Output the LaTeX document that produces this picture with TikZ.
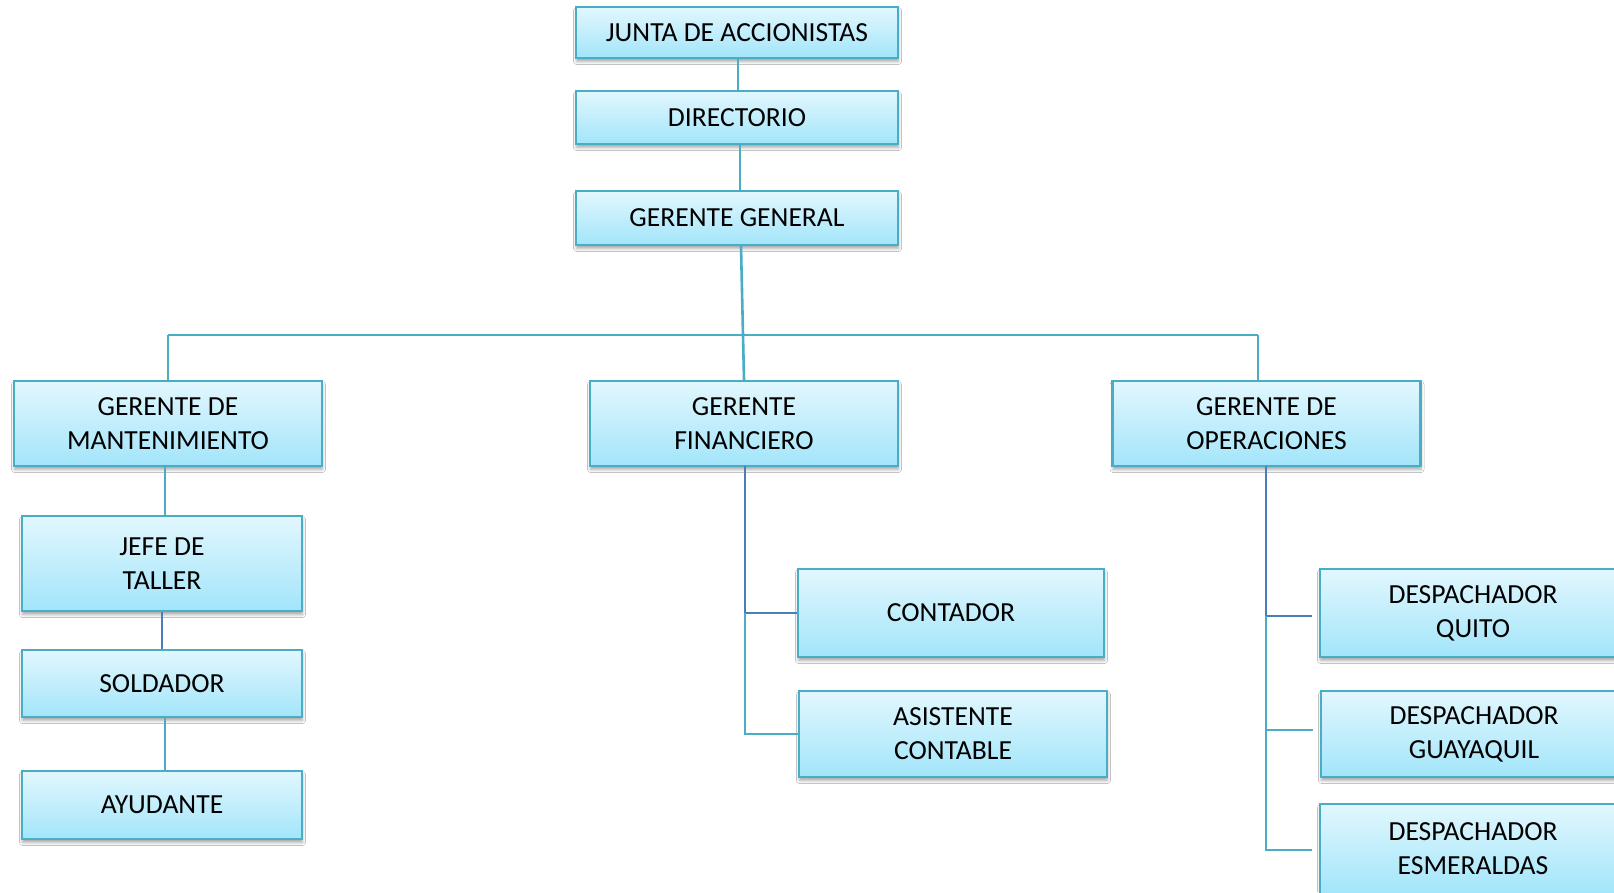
\documentclass[tikz,border=0pt]{standalone}
\usepackage{fontspec}
\setmainfont{Carlito}
\usetikzlibrary{shadows.blur}

\definecolor{boxline}{HTML}{4BACC6}
\definecolor{boxtop}{HTML}{E2F7FE}
\definecolor{boxbot}{HTML}{A2E5FA}
\definecolor{linklight}{HTML}{4BACC6}
\definecolor{linkdark}{HTML}{4A7EBB}

\tikzset{
  orgbox/.style={draw=boxline, line width=2.4pt, rectangle,
    top color=boxtop, bottom color=boxbot,
    align=center, inner sep=0pt,
    font=\fontsize{27.6}{34}\selectfont,
    blur shadow={shadow xshift=0.5pt, shadow yshift=-3.5pt,
                 shadow blur radius=3pt, shadow opacity=35}},
  link/.style={draw=linklight, line width=2.6pt},
  linkd/.style={draw=linkdark, line width=2.6pt},
}

\begin{document}
\begin{tikzpicture}[x=1pt, y=-1pt]
\useasboundingbox (0,0) rectangle (1614,892);
\fill[white] (0,0) rectangle (1614,892);
\clip (0,0) rectangle (1614,892);

% top of the hierarchy
\node[orgbox, minimum width=322pt, minimum height=51pt] (junta) at (737,32.5) {JUNTA DE ACCIONISTAS};
\node[orgbox, minimum width=322pt, minimum height=53pt] (dir)   at (737,117.5) {DIRECTORIO};
\node[orgbox, minimum width=322pt, minimum height=54pt] (gg)    at (737,218) {GERENTE GENERAL};

% managers
\node[orgbox, minimum width=308pt, minimum height=85pt] (mant) at (168,423.5) {GERENTE DE\\MANTENIMIENTO};
\node[orgbox, minimum width=308pt, minimum height=85pt] (fin)  at (744,423.5) {GERENTE\\FINANCIERO};
\node[orgbox, minimum width=308pt, minimum height=85pt] (oper) at (1266.5,423.5) {GERENTE DE\\OPERACIONES};

% maintenance staff
\node[orgbox, minimum width=280pt, minimum height=95pt] (jefe) at (162,563.5) {JEFE DE\\TALLER};
\node[orgbox, minimum width=280pt, minimum height=67pt] (sold) at (162,683.5) {SOLDADOR};
\node[orgbox, minimum width=280pt, minimum height=68pt] (ayu)  at (162,805) {AYUDANTE};

% finance staff
\node[orgbox, minimum width=306pt, minimum height=88pt] (cont) at (951,613) {CONTADOR};
\node[orgbox, minimum width=308pt, minimum height=86pt] (asis) at (953,734) {ASISTENTE\\CONTABLE};

% operations staff
\node[orgbox, minimum width=306pt, minimum height=88pt] (quito) at (1473,613) {DESPACHADOR\\QUITO};
\node[orgbox, minimum width=306pt, minimum height=86pt] (guay)  at (1474,734) {DESPACHADOR\\GUAYAQUIL};
\node[orgbox, minimum width=306pt, minimum height=90pt] (esm)   at (1473,849) {DESPACHADOR\\ESMERALDAS};

% connectors
\coordinate (busL) at (168,335);
\coordinate (busR) at (1258,335);

\draw[link] ([xshift=1pt]junta.south) -- ([xshift=1pt]dir.north);
\draw[link] ([xshift=3pt]dir.south) -- ([xshift=3pt]gg.north);
\draw[link] ([xshift=4pt]gg.south) -- (fin.north);
\draw[link] (busL) -- (busR);
\draw[link] (busL) -- (mant.north);
\draw[link] (busR) -- (busR |- oper.north);

\draw[link]  ([xshift=-3pt]mant.south) -- ([xshift=3pt]jefe.north);
\draw[linkd] (jefe.south) -- (sold.north);
\draw[link]  ([xshift=3pt]sold.south) -- ([xshift=3pt]ayu.north);

% finance branch
\coordinate (fa) at (745,466);
\coordinate (fb) at (745,613);
\coordinate (fc) at (745,734);
\draw[linkd] (fa) -- (fb) -- (cont.west);
\draw[link] (fb) -- (fc) -- (asis.west);

% operations branch
\coordinate (oa) at (1266,466);
\coordinate (ob) at (1266,616);
\coordinate (oc) at (1266,730);
\coordinate (od) at (1266,850);
\draw[linkd] (oa) -- (ob) -- ([xshift=-7pt]quito.west |- ob);
\draw[link] (ob) -- (oc) -- ([xshift=-7pt]guay.west |- oc);
\draw[link] (oc) -- (od) -- ([xshift=-7pt]esm.west |- od);
\end{tikzpicture}
\end{document}
